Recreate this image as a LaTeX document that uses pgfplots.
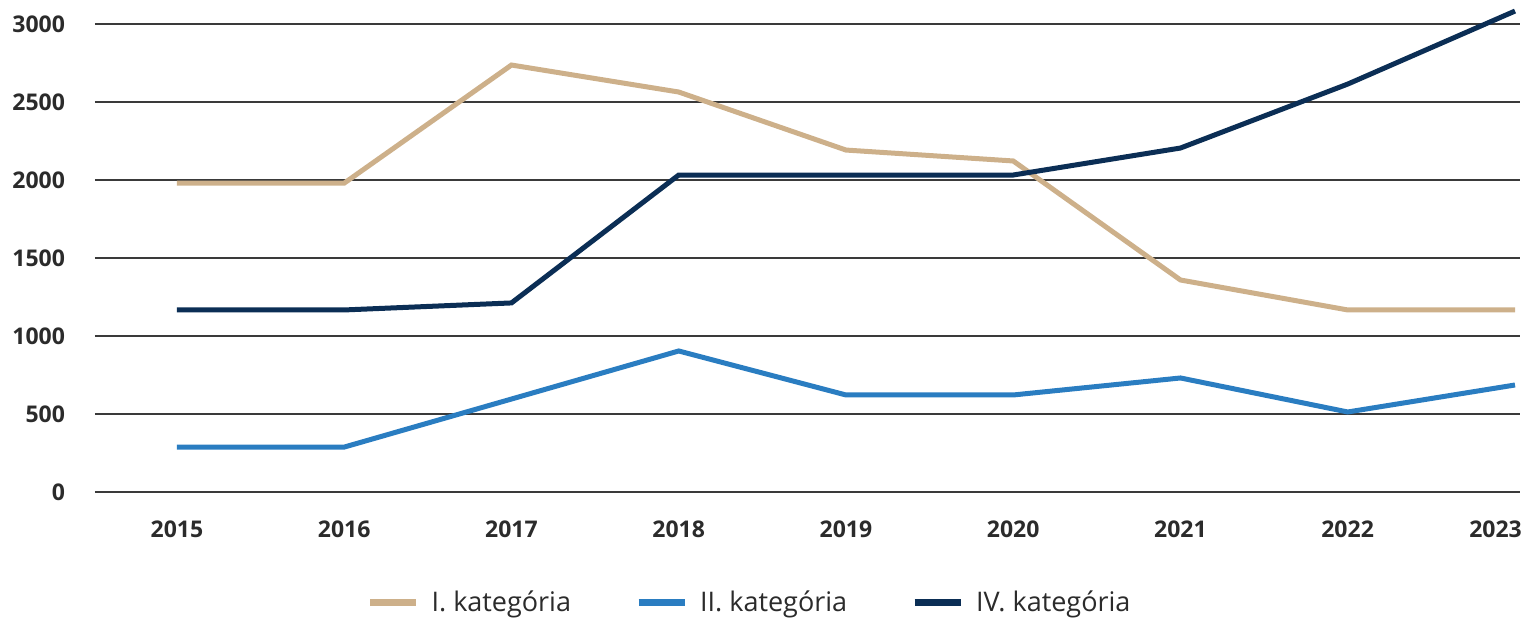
\documentclass[border=0pt]{standalone}
\usepackage{fontspec}
\setmainfont{Open Sans}
\usepackage{pgfplots}
\pgfplotsset{compat=1.18}
\definecolor{tanc}{HTML}{CDB08A}
\definecolor{bluec}{HTML}{2A7DC1}
\definecolor{navyc}{HTML}{0B2E55}
\definecolor{gridc}{HTML}{3A3A3A}
\definecolor{textc}{HTML}{2B2B2B}
\begin{document}
\begin{tikzpicture}
\useasboundingbox (-47.5pt,-62.5pt) rectangle (714.5pt,246pt);
\begin{axis}[
  scale only axis,
  width=712.5pt, height=234pt,
  xmin=2014.51, xmax=2023.03,
  ymin=0, ymax=3000,
  clip=false,
  axis line style={draw=none},
  major tick length=0pt,
  xtick={2015,...,2023},
  xticklabels={2015,2016,2017,2018,2019,2020,2021,2022,{\makebox[7pt][r]{2023}}},
  ytick={0,500,...,3000},
  ymajorgrids,
  grid style={gridc, line width=0.75pt},
  tick label style={font=\bfseries\fontsize{11.5}{13}\selectfont, text=textc},
  /pgf/number format/assume math mode=true,
  /pgf/number format/1000 sep={},
  xticklabel style={yshift=-11pt},
  yticklabel style={xshift=-11.5pt},
  legend columns=3,
  legend style={draw=none, at={(0.46,-0.237)}, anchor=center,
    font=\fontsize{13.5}{15}\selectfont, text=textc,
    /tikz/every odd column/.append style={column sep=4pt},
    /tikz/every even column/.append style={column sep=30pt}},
  legend image code/.code={\draw[#1, line width=3.5pt] (0pt,0pt) -- (23pt,0pt);},
]
\addplot[tanc, line width=2.5pt] coordinates {
 (2015,1980) (2016,1980) (2017,2737) (2018,2564) (2019,2192) (2020,2122) (2021,1359) (2022,1167) (2023,1167)};
\addlegendentry{I. kategória}
\addplot[bluec, line width=2.5pt] coordinates {
 (2015,288) (2016,288) (2017,596) (2018,904) (2019,622) (2020,622) (2021,731) (2022,513) (2023,686)};
\addlegendentry{II. kategória}
\addplot[navyc, line width=2.5pt] coordinates {
 (2015,1167) (2016,1167) (2017,1212) (2018,2032) (2019,2032) (2020,2032) (2021,2205) (2022,2615) (2023,3083)};
\addlegendentry{IV. kategória}
\end{axis}
\end{tikzpicture}
\end{document}
